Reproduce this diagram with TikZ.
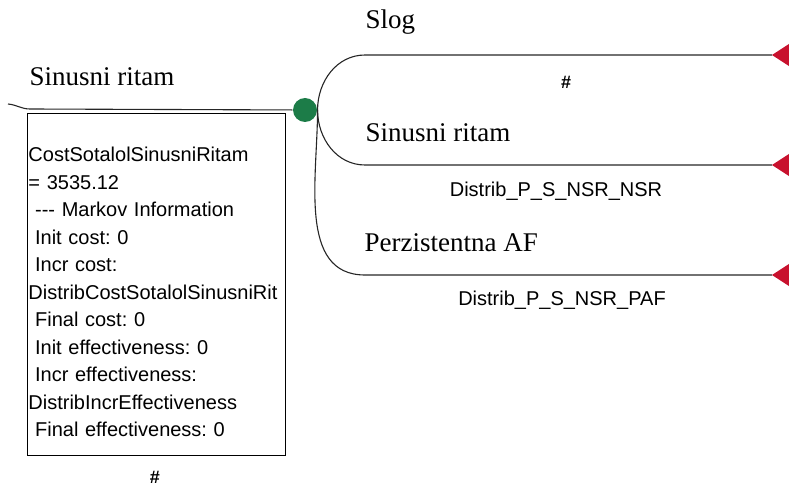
\documentclass[tikz,border=0pt]{standalone}
\usepackage{fontspec}
\setmainfont{Liberation Serif}
\setsansfont{Liberation Sans}
\definecolor{chancegreen}{RGB}{28,124,72}
\definecolor{termred}{RGB}{200,18,46}
\frenchspacing

\begin{document}
\begin{tikzpicture}[x=1pt,y=-1pt,line width=1.1pt]
\useasboundingbox (0,0) rectangle (789,489);
\tikzset{
  branch/.style={draw=black!85},
  serifl/.style={anchor=west,inner sep=0,font=\fontsize{27}{30}\selectfont},
  sansl/.style={inner sep=0,font=\sffamily\fontsize{20}{24}\selectfont},
  hashl/.style={inner sep=0,font=\sffamily\bfseries\fontsize{18}{20}\selectfont}
}
% chance node and incoming branch
\node (c) [circle,fill=chancegreen,minimum size=24,inner sep=0] at (305,110) {};
\coordinate (in) at (8,104);
\draw[branch] (in) to[out=-5,in=180] (30,109) -- (c);
\node (inl) [serifl] at (29,77) {Sinusni ritam};

% info box
\node (info) [draw,line width=0.9pt,anchor=north west,text width=256,minimum height=342,
  inner sep=1,align=left,font=\sffamily\fontsize{20}{27.5}\selectfont] at (27,113)
  {\mbox{}\\[2pt]CostSotalolSinusniRitam\\= 3535.12\\\ -{}-{}- Markov Information\\\ Init cost: 0\\
   \ Incr cost:\\DistribCostSotalolSinusniRit\\\ Final cost: 0\\\ Init effectiveness: 0\\
   \ Incr effectiveness:\\DistribIncrEffectiveness\\\ Final effectiveness: 0};
\node (infoh) [hashl] at (155,477) {\#};

% outcomes
\foreach \n/\y in {1/55,2/165,3/275} {
  \coordinate (t\n) at (772,\y);
  \fill[termred] (t\n) -- ++(20,-13) -- ++(0,26) -- cycle;
}
\draw[branch] (c.east) to[out=90,in=180] (365,55) -- (t1);
\draw[branch] (c.east) to[out=-90,in=180] (365,165) -- (t2);
\draw[branch] (c.east) to[out=-90,in=180] (365,275) -- (t3);

\node (l1) [serifl] at (365,22) {Slog};
\node (p1) [hashl] at (566,82) {\#};
\node (l2) [serifl] at (365,133) {Sinusni ritam};
\node (p2) [sansl] at (556,191) {Distrib\_P\_S\_NSR\_NSR};
\node (l3) [serifl] at (364,243) {Perzistentna AF};
\node (p3) [sansl] at (562,300) {Distrib\_P\_S\_NSR\_PAF};
\end{tikzpicture}
\end{document}
